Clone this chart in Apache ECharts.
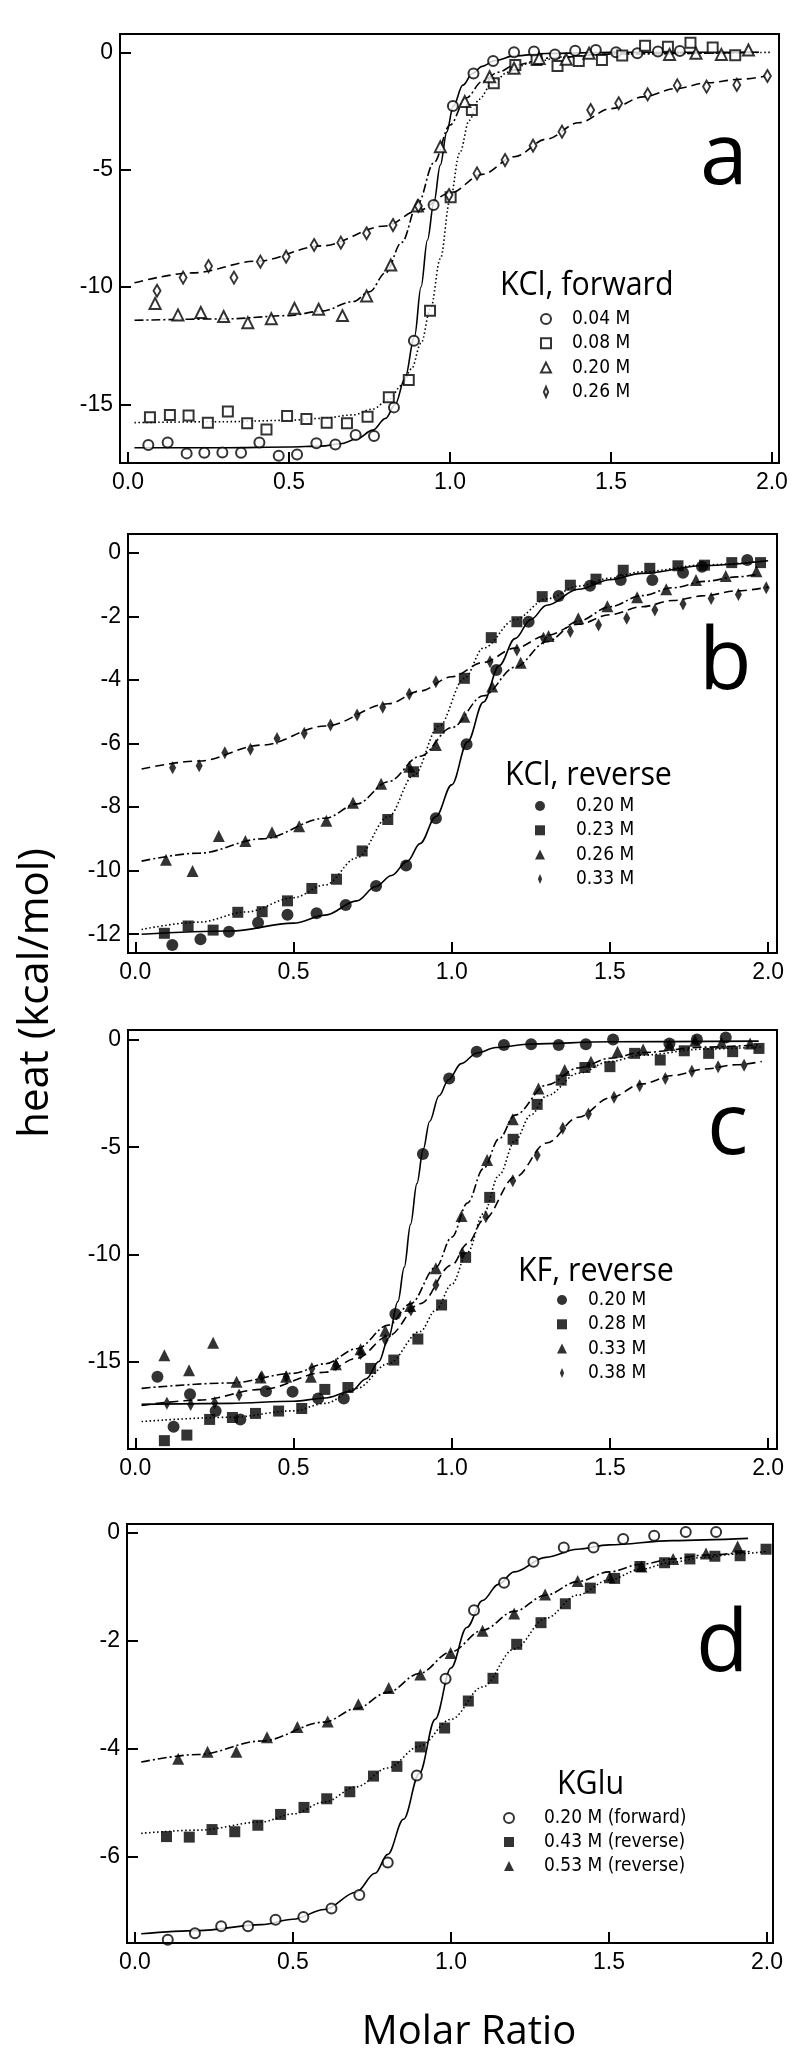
<!DOCTYPE html>
<html>
<head>
<meta charset="utf-8">
<script src="https://cdn.jsdelivr.net/npm/echarts@6/dist/echarts.min.js"></script>
<style>
  html, body { margin: 0; background: #fff; }
  #chart { width: 800px; height: 2064px; }
</style>
</head>
<body>
<div id="chart"></div>
<script>
// ---- panel a : KCl, forward (open symbols) ----
const a04 = [[0.063,-16.73],[0.123,-16.63],[0.182,-17.09],[0.237,-17.06],[0.293,-17.05],[0.351,-17.06],[0.408,-16.63],[0.468,-17.19],[0.525,-17.14],[0.585,-16.66],[0.644,-16.71],[0.707,-16.31],[0.764,-16.35],[0.826,-15.13],[0.888,-12.29],[0.949,-6.51],[1.009,-2.29],[1.073,-0.90],[1.134,-0.37],[1.199,0.0],[1.261,0.03],[1.326,-0.09],[1.389,0.07],[1.453,0.10],[1.516,0.0],[1.582,-0.04],[1.646,0.03],[1.714,0.06]];
const a08 = [[0.068,-15.55],[0.130,-15.45],[0.188,-15.48],[0.248,-15.78],[0.310,-15.31],[0.370,-15.81],[0.430,-16.07],[0.494,-15.50],[0.554,-15.63],[0.617,-15.78],[0.680,-15.81],[0.744,-15.53],[0.810,-14.70],[0.872,-13.96],[0.938,-11.01],[1.002,-6.18],[1.068,-2.46],[1.136,-1.32],[1.203,-0.54],[1.269,-0.33],[1.334,-0.58],[1.400,-0.37],[1.472,-0.33],[1.535,-0.14],[1.606,0.28],[1.677,0.24],[1.747,0.41],[1.816,0.20],[1.886,-0.13]];
const a20 = [[0.084,-10.70],[0.155,-11.19],[0.226,-11.09],[0.297,-11.26],[0.372,-11.52],[0.445,-11.35],[0.517,-10.91],[0.592,-10.95],[0.666,-11.22],[0.741,-10.38],[0.816,-9.06],[0.899,-6.55],[0.970,-4.02],[1.046,-2.10],[1.123,-1.04],[1.199,-0.68],[1.277,-0.26],[1.361,-0.30],[1.432,-0.04],[1.682,-0.09],[1.764,-0.04],[1.843,-0.09],[1.927,0.10]];
const a26 = [[0.090,-10.16],[0.171,-9.60],[0.250,-9.11],[0.329,-9.60],[0.411,-8.92],[0.491,-8.71],[0.578,-8.21],[0.661,-8.11],[0.741,-7.71],[0.823,-7.36],[0.902,-6.55],[0.997,-6.08],[1.084,-5.16],[1.171,-4.59],[1.258,-3.98],[1.348,-3.38],[1.437,-2.46],[1.524,-2.17],[1.614,-1.79],[1.706,-1.41],[1.797,-1.46],[1.891,-1.39],[1.986,-1.01]];
const a04Fit = [[0.02,-16.85],[0.3,-16.85],[0.5,-16.82],[0.6,-16.78],[0.66,-16.68],[0.71,-16.48],[0.76,-16.1],[0.8,-15.6],[0.83,-15.0],[0.86,-13.9],[0.89,-12.1],[0.91,-10.0],[0.93,-8.0],[0.95,-6.4],[0.97,-4.8],[0.99,-3.4],[1.01,-2.3],[1.04,-1.4],[1.07,-0.9],[1.1,-0.6],[1.14,-0.35],[1.2,-0.15],[1.3,-0.05],[1.5,0],[1.96,0]];
const a08Fit = [[0.02,-15.78],[0.3,-15.74],[0.5,-15.68],[0.6,-15.6],[0.7,-15.45],[0.76,-15.2],[0.81,-14.8],[0.85,-14.2],[0.88,-13.5],[0.91,-12.4],[0.94,-10.9],[0.97,-8.8],[1.0,-6.3],[1.03,-4.3],[1.06,-2.9],[1.09,-2.0],[1.13,-1.35],[1.18,-0.85],[1.25,-0.45],[1.35,-0.2],[1.5,-0.07],[2.0,0]];
const a20Fit = [[0.02,-11.42],[0.3,-11.36],[0.5,-11.22],[0.6,-11.03],[0.7,-10.62],[0.75,-10.2],[0.8,-9.4],[0.85,-8.1],[0.9,-6.45],[0.95,-4.7],[1.0,-3.1],[1.05,-1.95],[1.1,-1.25],[1.15,-0.85],[1.2,-0.55],[1.3,-0.25],[1.5,-0.07],[1.95,0]];
const a26Fit = [[0.02,-9.82],[0.2,-9.4],[0.4,-8.9],[0.6,-8.25],[0.8,-7.4],[0.9,-6.75],[1.0,-6.0],[1.1,-5.2],[1.2,-4.45],[1.3,-3.7],[1.4,-3.0],[1.5,-2.4],[1.6,-1.9],[1.7,-1.55],[1.8,-1.3],[1.9,-1.15],[1.98,-1.02]];

// ---- panel b : KCl, reverse (filled symbols) ----
const b20 = [[0.117,-12.34],[0.206,-12.16],[0.296,-11.92],[0.388,-11.64],[0.481,-11.39],[0.573,-11.34],[0.665,-11.08],[0.761,-10.48],[0.856,-9.84],[0.950,-8.35],[1.047,-6.02],[1.141,-3.69],[1.243,-2.17],[1.338,-1.36],[1.437,-1.04],[1.534,-0.86],[1.634,-0.86],[1.731,-0.63],[1.791,-0.44],[1.934,-0.23]];
const b23 = [[0.092,-11.97],[0.167,-11.74],[0.246,-11.87],[0.324,-11.31],[0.401,-11.29],[0.481,-10.95],[0.558,-10.56],[0.636,-10.27],[0.717,-9.38],[0.798,-8.39],[0.879,-6.89],[0.960,-5.52],[1.040,-3.95],[1.125,-2.67],[1.206,-2.17],[1.286,-1.38],[1.375,-1.02],[1.456,-0.83],[1.542,-0.55],[1.626,-0.49],[1.715,-0.41],[1.799,-0.39],[1.885,-0.31],[1.976,-0.31]];
const b26 = [[0.097,-9.66],[0.181,-10.01],[0.264,-8.91],[0.348,-9.07],[0.432,-8.79],[0.518,-8.60],[0.604,-8.43],[0.688,-7.86],[0.777,-7.27],[0.866,-6.73],[0.950,-6.05],[1.040,-5.16],[1.128,-4.21],[1.218,-3.46],[1.306,-2.62],[1.400,-2.06],[1.492,-1.68],[1.586,-1.40],[1.678,-1.15],[1.772,-0.86],[1.866,-0.73],[1.963,-0.58]];
const b33 = [[0.118,-6.76],[0.202,-6.70],[0.283,-6.29],[0.364,-6.18],[0.448,-5.84],[0.534,-5.68],[0.617,-5.42],[0.701,-5.10],[0.782,-4.86],[0.866,-4.44],[0.950,-4.06],[1.121,-3.43],[1.206,-3.06],[1.290,-2.69],[1.375,-2.48],[1.464,-2.27],[1.553,-2.06],[1.642,-1.80],[1.731,-1.61],[1.820,-1.44],[1.906,-1.31],[1.994,-1.10]];
const b20Fit = [[0.02,-12.0],[0.3,-11.9],[0.5,-11.65],[0.6,-11.4],[0.7,-10.95],[0.76,-10.5],[0.81,-10.15],[0.86,-9.7],[0.9,-9.15],[0.95,-8.3],[1.0,-7.3],[1.05,-5.95],[1.1,-4.7],[1.15,-3.55],[1.2,-2.7],[1.25,-2.1],[1.3,-1.65],[1.4,-1.15],[1.5,-0.85],[1.6,-0.65],[1.8,-0.4],[2.0,-0.25]];
const b23Fit = [[0.02,-11.85],[0.2,-11.62],[0.35,-11.3],[0.5,-10.85],[0.6,-10.45],[0.7,-9.6],[0.8,-8.3],[0.88,-7.0],[0.96,-5.45],[1.04,-3.95],[1.1,-3.0],[1.2,-2.1],[1.3,-1.45],[1.4,-1.05],[1.5,-0.8],[1.6,-0.6],[1.8,-0.38],[2.0,-0.25]];
const b26Fit = [[0.02,-9.7],[0.2,-9.45],[0.4,-9.0],[0.6,-8.35],[0.7,-7.9],[0.8,-7.2],[0.9,-6.4],[1.0,-5.5],[1.1,-4.5],[1.2,-3.6],[1.3,-2.8],[1.4,-2.15],[1.5,-1.7],[1.6,-1.35],[1.7,-1.1],[1.8,-0.9],[1.9,-0.76],[1.97,-0.67]];
const b33Fit = [[0.02,-6.8],[0.2,-6.55],[0.4,-6.05],[0.6,-5.45],[0.8,-4.75],[0.9,-4.35],[1.0,-3.9],[1.1,-3.45],[1.2,-3.0],[1.3,-2.6],[1.4,-2.25],[1.5,-1.95],[1.6,-1.7],[1.7,-1.5],[1.8,-1.35],[1.9,-1.2],[2.0,-1.08]];

// ---- panel c : KF, reverse ----
const c20 = [[0.070,-15.71],[0.121,-18.04],[0.173,-16.52],[0.254,-17.31],[0.332,-17.70],[0.413,-16.38],[0.497,-16.41],[0.578,-16.72],[0.659,-16.72],[0.822,-12.78],[0.909,-5.32],[0.992,-1.79],[1.079,-0.54],[1.165,-0.23],[1.251,-0.19],[1.338,-0.23],[1.424,-0.19],[1.510,0.03],[1.688,-0.16],[1.775,0.03],[1.866,0.12]];
const c28 = [[0.092,-18.69],[0.163,-18.43],[0.235,-17.70],[0.307,-17.61],[0.380,-17.42],[0.453,-17.31],[0.526,-17.19],[0.599,-16.30],[0.672,-16.21],[0.744,-15.32],[0.817,-14.93],[0.893,-13.95],[0.968,-12.36],[1.044,-10.14],[1.120,-7.34],[1.194,-4.63],[1.270,-3.00],[1.346,-1.87],[1.421,-1.28],[1.500,-1.24],[1.578,-0.62],[1.659,-0.93],[1.735,-0.50],[1.812,-0.62],[1.888,-0.54],[1.971,-0.39]];
const c33 = [[0.092,-14.70],[0.170,-15.40],[0.246,-14.12],[0.320,-15.94],[0.396,-15.74],[0.477,-15.71],[0.555,-15.71],[0.634,-15.12],[0.712,-14.43],[0.790,-13.56],[0.869,-12.41],[0.950,-10.65],[1.031,-8.21],[1.112,-5.60],[1.193,-3.70],[1.274,-2.26],[1.357,-1.40],[1.440,-1.01],[1.524,-0.54],[1.605,-0.44],[1.688,-0.23],[1.769,-0.03],[1.853,-0.12],[1.943,-0.16]];
const c38 = [[0.100,-16.95],[0.175,-17.00],[0.251,-16.92],[0.328,-16.56],[0.400,-15.71],[0.477,-15.71],[0.558,-15.32],[0.634,-15.16],[0.712,-14.62],[0.790,-14.00],[0.871,-12.60],[0.950,-11.43],[1.033,-9.95],[1.108,-8.24],[1.193,-6.56],[1.270,-5.37],[1.351,-4.12],[1.432,-3.45],[1.513,-2.67],[1.594,-2.13],[1.675,-1.79],[1.759,-1.45],[1.842,-1.24],[1.924,-1.17]];
const c20Fit = [[0.02,-17.0],[0.3,-16.95],[0.5,-16.85],[0.6,-16.7],[0.68,-16.4],[0.73,-15.8],[0.77,-15.0],[0.8,-13.9],[0.83,-12.2],[0.85,-10.6],[0.87,-8.6],[0.89,-6.7],[0.91,-5.1],[0.93,-3.8],[0.96,-2.6],[0.99,-1.85],[1.03,-1.1],[1.08,-0.6],[1.14,-0.35],[1.25,-0.18],[1.5,-0.08],[1.97,-0.05]];
const c28Fit = [[0.02,-17.8],[0.3,-17.6],[0.5,-17.3],[0.6,-16.95],[0.7,-16.25],[0.8,-15.1],[0.9,-13.6],[0.95,-12.6],[1.0,-11.4],[1.05,-9.9],[1.1,-8.1],[1.15,-6.3],[1.2,-4.7],[1.25,-3.5],[1.3,-2.6],[1.4,-1.55],[1.5,-1.0],[1.6,-0.7],[1.8,-0.42],[1.98,-0.32]];
const c33Fit = [[0.02,-16.25],[0.3,-16.0],[0.5,-15.55],[0.6,-15.1],[0.7,-14.4],[0.8,-13.3],[0.87,-12.3],[0.95,-10.6],[1.0,-9.2],[1.05,-7.6],[1.1,-6.0],[1.15,-4.6],[1.2,-3.5],[1.3,-2.1],[1.4,-1.3],[1.5,-0.85],[1.6,-0.58],[1.8,-0.33],[1.97,-0.22]];
const c38Fit = [[0.02,-17.05],[0.2,-16.8],[0.4,-16.3],[0.6,-15.5],[0.7,-14.85],[0.8,-13.8],[0.9,-12.3],[1.0,-10.5],[1.05,-9.5],[1.1,-8.4],[1.2,-6.4],[1.3,-4.8],[1.4,-3.6],[1.5,-2.7],[1.6,-2.05],[1.7,-1.65],[1.8,-1.35],[1.9,-1.15],[1.98,-1.0]];

// ---- panel d : KGlu ----
const d20 = [[0.104,-7.53],[0.190,-7.41],[0.273,-7.28],[0.358,-7.28],[0.445,-7.16],[0.533,-7.11],[0.622,-6.95],[0.710,-6.70],[0.800,-6.10],[0.892,-4.49],[0.983,-2.70],[1.073,-1.43],[1.168,-0.92],[1.261,-0.53],[1.357,-0.27],[1.451,-0.27],[1.545,-0.11],[1.643,-0.05],[1.743,0.02],[1.839,0.02]];
const d43 = [[0.100,-5.62],[0.172,-5.63],[0.244,-5.49],[0.316,-5.53],[0.389,-5.41],[0.461,-5.21],[0.535,-5.08],[0.607,-4.92],[0.680,-4.79],[0.755,-4.50],[0.829,-4.32],[0.903,-3.96],[0.980,-3.61],[1.055,-3.11],[1.133,-2.69],[1.208,-2.06],[1.285,-1.66],[1.362,-1.31],[1.441,-1.02],[1.518,-0.84],[1.598,-0.62],[1.676,-0.55],[1.756,-0.48],[1.835,-0.43],[1.915,-0.42],[1.997,-0.30]];
const d53 = [[0.137,-4.18],[0.230,-4.05],[0.321,-4.05],[0.418,-3.78],[0.514,-3.59],[0.610,-3.49],[0.707,-3.17],[0.803,-2.87],[0.903,-2.62],[0.999,-2.22],[1.100,-1.81],[1.200,-1.49],[1.298,-1.14],[1.401,-0.89],[1.502,-0.82],[1.603,-0.62],[1.703,-0.48],[1.807,-0.38],[1.907,-0.25]];
const d20Fit = [[0.02,-7.42],[0.2,-7.36],[0.4,-7.25],[0.5,-7.15],[0.6,-6.97],[0.7,-6.65],[0.76,-6.3],[0.8,-5.95],[0.85,-5.3],[0.9,-4.45],[0.95,-3.45],[1.0,-2.5],[1.05,-1.75],[1.1,-1.25],[1.15,-0.95],[1.2,-0.72],[1.3,-0.45],[1.4,-0.3],[1.5,-0.22],[1.7,-0.14],[1.94,-0.1]];
const d43Fit = [[0.02,-5.56],[0.2,-5.5],[0.4,-5.35],[0.5,-5.2],[0.6,-4.98],[0.7,-4.7],[0.8,-4.35],[0.9,-3.95],[1.0,-3.45],[1.1,-2.85],[1.2,-2.15],[1.3,-1.58],[1.4,-1.15],[1.5,-0.87],[1.6,-0.67],[1.7,-0.54],[1.8,-0.45],[1.9,-0.39],[2.0,-0.34]];
const d53Fit = [[0.02,-4.24],[0.2,-4.1],[0.4,-3.85],[0.6,-3.5],[0.7,-3.25],[0.8,-2.95],[0.9,-2.6],[1.0,-2.2],[1.1,-1.8],[1.2,-1.45],[1.3,-1.15],[1.4,-0.9],[1.5,-0.72],[1.6,-0.58],[1.7,-0.48],[1.8,-0.41],[1.95,-0.34]];

// legend labels
const aNames = ['0.04 M', '0.08 M', '0.20 M', '0.26 M'];
const bNames = ['0.20 M', '0.23 M', '0.26 M', '0.33 M'];
const cNames = ['0.20 M', '0.28 M', '0.33 M', '0.38 M'];
const dNames = ['0.20 M (forward)', '0.43 M (reverse)', '0.53 M (reverse)'];

const DOTTED = [1.5, 2.5], DASHDOT = [9, 3, 2, 3], DASHED = [9, 5];
const tickFont = 'Liberation Sans';
const legendFont = '"Liberation Sans Narrow", "Arial Narrow", "DejaVu Sans Condensed", sans-serif';

// splitNumber picked so the nice ticks land on 0.5 (x) and 5 / 2 / 5 / 2 (y)
const panels = [
  { grid: { left: 120, top: 34, width: 659, height: 429 }, x: [-0.025, 2.022], y: [-17.5, 0.78], split: 4 },
  { grid: { left: 128, top: 534, width: 649, height: 419 }, x: [-0.023, 2.028], y: [-12.59, 0.59], split: 7 },
  { grid: { left: 128, top: 1030, width: 649, height: 419 }, x: [-0.023, 2.028], y: [-19.08, 0.47], split: 4 },
  { grid: { left: 127, top: 1524, width: 646, height: 419 }, x: [-0.025, 2.019], y: [-7.59, 0.167], split: 5 }
];

const grids = panels.map(p => Object.assign({ show: true, backgroundColor: 'transparent', borderColor: '#000',
  borderWidth: 2, containLabel: false, z: 0 }, p.grid));
const lineStyle = { show: true, onZero: false, lineStyle: { color: '#000', width: 2 } };
const tickStyle = { show: true, inside: true, length: 11, lineStyle: { color: '#000', width: 2 } };
const xAxes = panels.map((p, i) => ({
  type: 'value', gridIndex: i, min: p.x[0], max: p.x[1], splitNumber: 5, position: 'bottom', z: 10,
  axisLine: lineStyle, splitLine: { show: false }, axisTick: tickStyle,
  axisLabel: { formatter: v => v.toFixed(1), margin: 8, color: '#000', fontFamily: tickFont, fontSize: 23,
    showMinLabel: false, showMaxLabel: false }
}));
const yAxes = panels.map((p, i) => ({
  type: 'value', gridIndex: i, min: p.y[0], max: p.y[1], splitNumber: p.split, position: 'left', z: 10,
  axisLine: lineStyle, splitLine: { show: false }, axisTick: tickStyle,
  axisLabel: { margin: 7, color: '#000', fontFamily: tickFont, fontSize: 23, showMinLabel: false, showMaxLabel: false }
}));

const series = [];
function fit(i, data, type) {
  series.push({ type: 'line', xAxisIndex: i, yAxisIndex: i, data: data, smooth: 0.35, smoothMonotone: 'x',
    symbol: 'none', silent: true, z: 2, lineStyle: { color: '#000', width: 1.6, type: type } });
}
function pts(i, name, data, symbol, size, open) {
  series.push({ type: 'scatter', name: name, xAxisIndex: i, yAxisIndex: i, data: data, symbol: symbol,
    symbolSize: size, z: 3,
    itemStyle: open ? { color: '#fff', borderColor: '#000', borderWidth: 2 } : { color: '#000' } });
}

fit(0, a04Fit, 'solid'); fit(0, a08Fit, DOTTED); fit(0, a20Fit, DASHDOT); fit(0, a26Fit, DASHED);
pts(0, 'a|' + aNames[0], a04, 'circle', 10, true);
pts(0, 'a|' + aNames[1], a08, 'rect', 10, true);
pts(0, 'a|' + aNames[2], a20, 'triangle', 11, true);
pts(0, 'a|' + aNames[3], a26, 'diamond', [7, 12], true);

fit(1, b20Fit, 'solid'); fit(1, b23Fit, DOTTED); fit(1, b26Fit, DASHDOT); fit(1, b33Fit, DASHED);
pts(1, 'b|' + bNames[0], b20, 'circle', 12, false);
pts(1, 'b|' + bNames[1], b23, 'rect', 11, false);
pts(1, 'b|' + bNames[2], b26, 'triangle', 12, false);
pts(1, 'b|' + bNames[3], b33, 'diamond', [7, 13], false);

fit(2, c20Fit, 'solid'); fit(2, c28Fit, DOTTED); fit(2, c33Fit, DASHDOT); fit(2, c38Fit, DASHED);
pts(2, 'c|' + cNames[0], c20, 'circle', 12, false);
pts(2, 'c|' + cNames[1], c28, 'rect', 11, false);
pts(2, 'c|' + cNames[2], c33, 'triangle', 12, false);
pts(2, 'c|' + cNames[3], c38, 'diamond', [7, 13], false);

fit(3, d20Fit, 'solid'); fit(3, d43Fit, DOTTED); fit(3, d53Fit, DASHDOT);
pts(3, 'd|' + dNames[0], d20, 'circle', 10, true);
pts(3, 'd|' + dNames[1], d43, 'rect', 11, false);
pts(3, 'd|' + dNames[2], d53, 'triangle', 12, false);

const slimDiamond = 'path://M3 0L6 7L3 14L0 7Z';
function legendFor(prefix, names, left, top, gap, pad) {
  return {
    orient: 'vertical', left: left, top: top, itemWidth: 10, itemHeight: 10, itemGap: gap,
    selectedMode: false, padding: 0,
    data: names.map((n, k) => k === 3 ? { name: prefix + n, icon: slimDiamond } : prefix + n),
    formatter: n => n.split('|')[1],
    textStyle: { fontFamily: legendFont, fontSize: 19, lineHeight: 19, color: '#000', padding: [0, 0, 0, pad] }
  };
}

const headFont = '"Open Sans"';
function heading(text, x, y) {
  return { type: 'text', x: x, y: y, scaleX: 0.95, silent: true,
    style: { text: text, fontFamily: headFont, fontSize: 32, fill: '#000', align: 'left', verticalAlign: 'middle' } };
}
function letter(text, x, y) {
  return { type: 'text', x: x, y: y, silent: true,
    style: { text: text, fontFamily: headFont, fontSize: 86, fill: '#000', align: 'left', verticalAlign: 'middle' } };
}

const option = {
  animation: false,
  backgroundColor: '#fff',
  grid: grids,
  xAxis: xAxes,
  yAxis: yAxes,
  legend: [
    legendFor('a|', aNames, 540, 309.5, 5.3, 16),
    legendFor('b|', bNames, 535, 796.5, 5.3, 26),
    legendFor('c|', cNames, 557, 1290.5, 5.3, 16),
    legendFor('d|', dNames, 503, 1808.5, 5, 25)
  ],
  graphic: [
    heading('KCl, forward', 500, 286),
    heading('KCl, reverse', 505, 776),
    heading('KF, reverse', 518, 1272),
    heading('KGlu', 557, 1785),
    letter('a', 700, 159),
    letter('b', 699, 664),
    letter('c', 707, 1129),
    letter('d', 696, 1646),
    { type: 'text', x: 36, y: 993, rotation: Math.PI / 2, silent: true,
      style: { text: 'heat (kcal/mol)', fontFamily: headFont, fontSize: 42, fill: '#000', align: 'center', verticalAlign: 'middle' } },
    { type: 'text', x: 469, y: 2033, silent: true,
      style: { text: 'Molar Ratio', fontFamily: headFont, fontSize: 40, fill: '#000', align: 'center', verticalAlign: 'middle' } }
  ],
  series: series
};

const chart = echarts.init(document.getElementById('chart'), null, { renderer: 'canvas' });
chart.setOption(option);
</script>
</body>
</html>
